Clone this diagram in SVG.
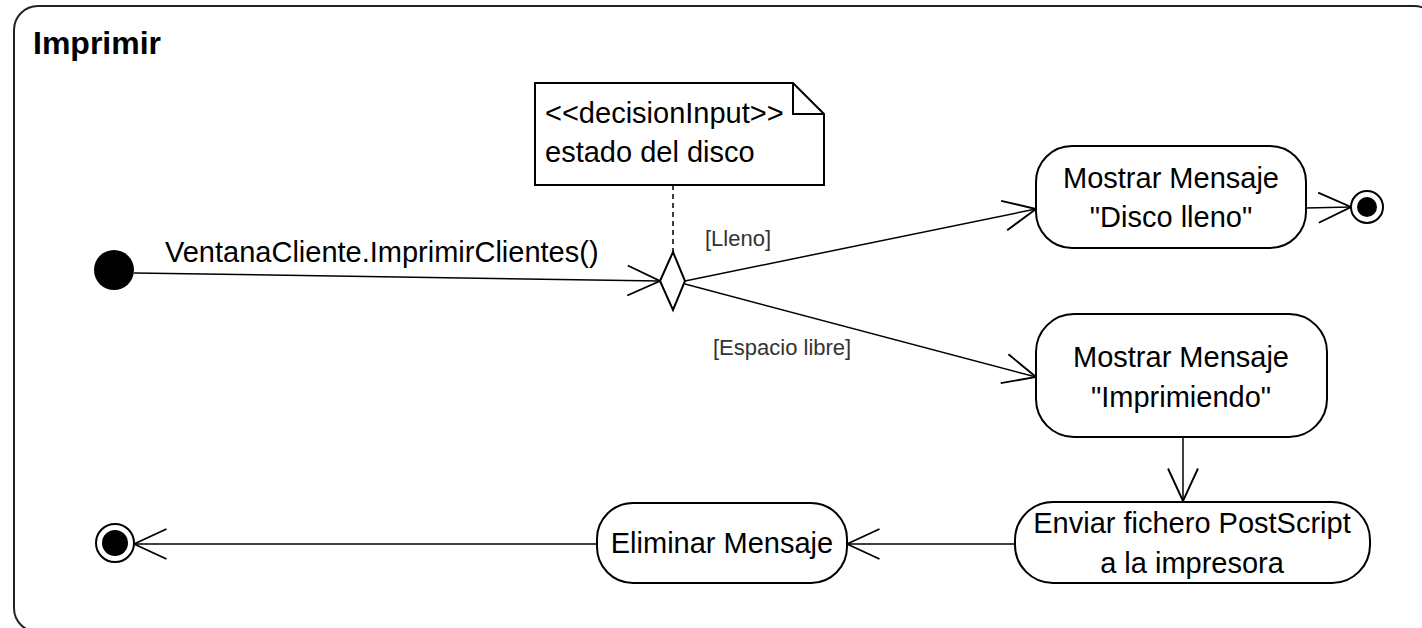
<svg xmlns="http://www.w3.org/2000/svg" width="1422" height="628" viewBox="0 0 1422 628">
<style>
.t{font-family:"Liberation Sans",Arial,sans-serif;font-size:29px;fill:#000}
.g{font-family:"Liberation Sans",Arial,sans-serif;font-size:22px;fill:#333}
.n{fill:#fff;stroke:#000;stroke-width:2}
.c{fill:none;stroke:#000;stroke-width:1.5}
</style>
<defs>
<marker id="open" markerUnits="userSpaceOnUse" markerWidth="40" markerHeight="40" viewBox="-30 -15 32 30" refX="0" refY="0" orient="auto">
<path d="M-26,-12 L0,0 L-26,12" fill="none" stroke="#000" stroke-width="1.5"/>
</marker>
</defs>
<rect x="0" y="0" width="1422" height="628" fill="#fff"/>
<g id="frame">
<rect x="14" y="6" width="1424" height="626" rx="24" fill="none" stroke="#222" stroke-width="2"/>
<text x="33" y="54" style="font-family:'Liberation Sans',Arial,sans-serif;font-size:32px;font-weight:bold" fill="#000">Imprimir</text>
</g>
<g id="connectors">
<path class="c" d="M134,273 L660,281" marker-end="url(#open)"/>
<text class="t" x="165" y="262">VentanaCliente.ImprimirClientes()</text>
<path class="c" d="M673,185 L673,252" stroke-dasharray="5,4"/>
<path class="c" d="M685,281 L1036,209" marker-end="url(#open)"/>
<text class="g" x="705" y="246">[Lleno]</text>
<path class="c" d="M685,284 L1036,377" marker-end="url(#open)"/>
<text class="g" x="713" y="355">[Espacio libre]</text>
<path class="c" d="M1306,208 L1351,207" marker-end="url(#open)"/>
<path class="c" d="M1183,437 L1183,501" marker-end="url(#open)"/>
<path class="c" d="M1015,544 L847,544" marker-end="url(#open)"/>
<path class="c" d="M597,544 L134,544" marker-end="url(#open)"/>
</g>
<g id="start">
<circle cx="114" cy="270" r="20" fill="#000"/>
</g>
<g id="decision">
<path d="M660,281 L673,252 L685,281 L673,310 Z" fill="#fff" stroke="#000" stroke-width="2"/>
</g>
<g id="note">
<path d="M535,83 L793,83 L824,114 L824,185 L535,185 Z" fill="#fff" stroke="#000" stroke-width="2"/>
<path d="M793,83 L793,114 L824,114" fill="none" stroke="#000" stroke-width="2"/>
<text class="t" x="545" y="123">&lt;&lt;decisionInput&gt;&gt;</text>
<text class="t" x="545" y="162">estado del disco</text>
</g>
<g id="msgLleno">
<rect class="n" x="1036" y="146" width="270" height="102" rx="36"/>
<text class="t" x="1171" y="188" text-anchor="middle">Mostrar Mensaje</text>
<text class="t" x="1171" y="227" text-anchor="middle">"Disco lleno"</text>
</g>
<g id="endRight">
<circle cx="1367" cy="207" r="16" fill="#fff" stroke="#000" stroke-width="2"/>
<circle cx="1367" cy="207" r="10" fill="#000"/>
</g>
<g id="msgImprimiendo">
<rect class="n" x="1036" y="314" width="291" height="123" rx="38"/>
<text class="t" x="1181" y="367" text-anchor="middle">Mostrar Mensaje</text>
<text class="t" x="1181" y="407" text-anchor="middle">"Imprimiendo"</text>
</g>
<g id="enviar">
<rect class="n" x="1015" y="502" width="355" height="81" rx="38"/>
<text class="t" x="1192" y="533" text-anchor="middle">Enviar fichero PostScript</text>
<text class="t" x="1192" y="573" text-anchor="middle">a la impresora</text>
</g>
<g id="eliminar">
<rect class="n" x="597" y="503" width="250" height="80" rx="36"/>
<text class="t" x="722" y="553" text-anchor="middle">Eliminar Mensaje</text>
</g>
<g id="endLeft">
<circle cx="115" cy="543" r="19" fill="#fff" stroke="#000" stroke-width="2"/>
<circle cx="115" cy="543" r="13" fill="#000"/>
</g>
</svg>
